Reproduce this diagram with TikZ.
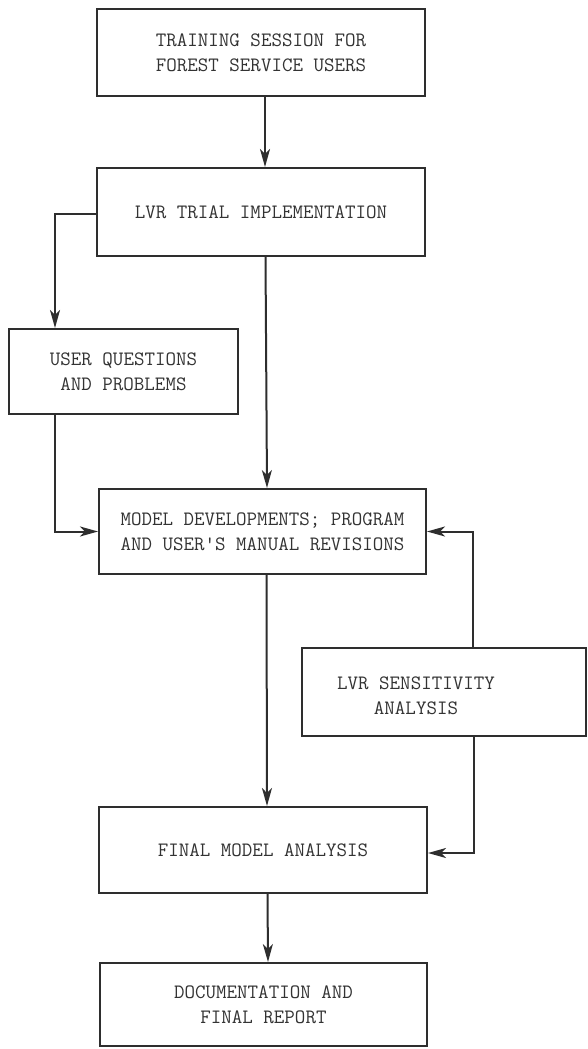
\documentclass[tikz,border=0pt]{standalone}
\usetikzlibrary{arrows.meta}
\definecolor{ink}{HTML}{2E2E2E}
\definecolor{txtc}{HTML}{333333}
\tikzset{
  box/.style={draw=ink, line width=2pt, rectangle, inner sep=0pt},
  lbl/.style={font=\ttfamily\fontsize{20.4}{25}\selectfont, text=txtc, align=center, inner sep=0pt},
  arr/.style={draw=ink, line width=2pt, -{Stealth[length=18pt, width=10pt, inset=5pt]}}
}
\begin{document}
\begin{tikzpicture}[x=1pt, y=-1pt]
\useasboundingbox[fill=white] (0,0) rectangle (587,1049);
\node[box, lbl, minimum width=328pt, minimum height=87pt] (train) at (261,52.5) {TRAINING SESSION FOR\\FOREST SERVICE USERS};
\node[box, lbl, minimum width=328pt, minimum height=88pt] (trial) at (261,212) {LVR TRIAL IMPLEMENTATION};
\node[box, lbl, minimum width=229pt, minimum height=85pt] (quest) at (123.5,371.5) {USER QUESTIONS\\AND PROBLEMS};
\node[box, lbl, minimum width=327pt, minimum height=85pt] (model) at (262.5,531.5) {MODEL DEVELOPMENTS; PROGRAM\\AND USER'S MANUAL REVISIONS};
\node[box, minimum width=284pt, minimum height=88pt] (sens) at (443.5,692) {};
\node[lbl] (senstxt) at (416,696) {LVR SENSITIVITY\\ANALYSIS};
\node[box, lbl, minimum width=328pt, minimum height=86pt] (final) at (263,850) {FINAL MODEL ANALYSIS};
\node[box, lbl, minimum width=327pt, minimum height=83pt] (doc) at (263.5,1004.5) {DOCUMENTATION AND\\FINAL REPORT};

\draw[arr] ([xshift=4pt]train.south) -- ([xshift=4pt]trial.north);
\draw[arr] ([yshift=-2pt]trial.west) -| ([xshift=-68.5pt]quest.north);
\draw[arr] ([xshift=4.5pt]trial.south) -- ([xshift=4.5pt]model.north);
\draw[arr] ([xshift=-68.5pt]quest.south) |- (model.west);
\draw[arr] ([xshift=4pt]model.south) -- ([xshift=4pt]final.north);
\draw[arr] ([xshift=29.5pt]sens.north) |- (model.east);
\draw[arr] ([xshift=30.5pt]sens.south) |- ([yshift=-3pt]final.east);
\draw[arr] ([xshift=4.5pt]final.south) -- ([xshift=4.5pt]doc.north);
\end{tikzpicture}
\end{document}
